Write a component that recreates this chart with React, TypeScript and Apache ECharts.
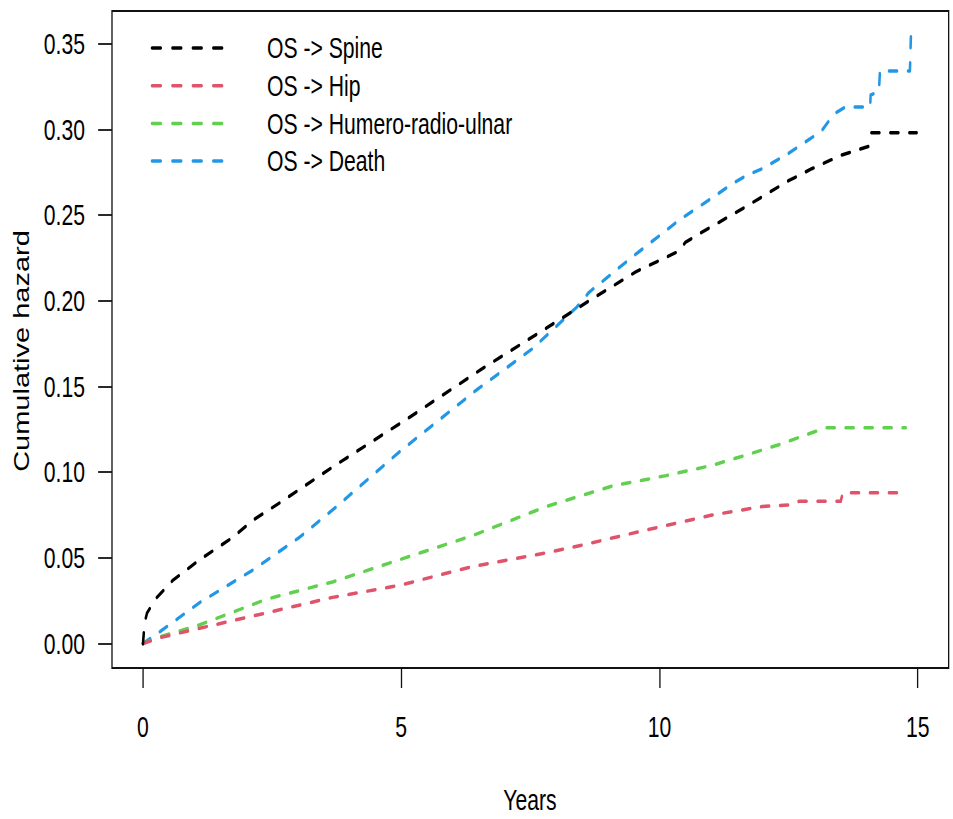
import React, { useEffect, useRef } from "react";
import * as echarts from "echarts";

const seriesNames = ["OS -> Spine", "OS -> Hip", "OS -> Humero-radio-ulnar", "OS -> Death"];
const seriesColors = ["#000000", "#DF536B", "#61D04F", "#2297E6"];

const spineData: number[][] = [
  [0, 0], [0.03, 0.012], [0.08, 0.018], [0.27, 0.027], [0.58, 0.037], [1.1, 0.049],
  [1.74, 0.062], [2.13, 0.072], [2.59, 0.081], [3.67, 0.103], [5.16, 0.132], [6.6, 0.161],
  [7.81, 0.184], [8.64, 0.2], [9.55, 0.217], [10.38, 0.229], [10.5, 0.234], [10.77, 0.239],
  [11.68, 0.255], [12.5, 0.27], [12.95, 0.277], [13.53, 0.285], [14.05, 0.29], [14.1, 0.298],
  [14.98, 0.298],
];

const hipData: number[][] = [
  [0, 0], [0.33, 0.0035], [1.1, 0.009], [2.4, 0.018], [3.67, 0.027], [4.97, 0.034],
  [6.38, 0.045], [7.81, 0.053], [8.58, 0.058], [9.28, 0.063], [9.99, 0.068], [11.02, 0.075],
  [11.99, 0.08], [12.57, 0.081], [12.7, 0.083], [13.51, 0.083], [13.55, 0.088], [14.79, 0.088],
];

const humeroData: number[][] = [
  [0, 0], [0.33, 0.004], [1.1, 0.011], [2.4, 0.026], [3.67, 0.036], [4.97, 0.049],
  [6.38, 0.063], [7.81, 0.08], [9.09, 0.092], [10.13, 0.098], [11.02, 0.104], [11.68, 0.11],
  [12.31, 0.116], [12.95, 0.123], [13.22, 0.126], [14.77, 0.126],
];

const deathData: number[][] = [
  [0, 0], [0.33, 0.007], [1.1, 0.024], [2.13, 0.043], [3.03, 0.062], [3.75, 0.08],
  [4.97, 0.112], [6.46, 0.148], [7.54, 0.172], [8.39, 0.196], [8.64, 0.205], [9.41, 0.224],
  [10.38, 0.247], [11.02, 0.26], [11.4, 0.268], [11.68, 0.273], [11.99, 0.277], [12.5, 0.286],
  [13.14, 0.299], [13.38, 0.309], [13.6, 0.313], [14.08, 0.313], [14.09, 0.32], [14.25, 0.322],
  [14.27, 0.334], [14.85, 0.334], [14.87, 0.355], [14.95, 0.355],
];

const allData = [spineData, hipData, humeroData, deathData];

const xTicks = [0, 5, 10, 15];
const yTicks = [0, 0.05, 0.1, 0.15, 0.2, 0.25, 0.3, 0.35];

const FONT = "'Liberation Sans', Arial, Helvetica, sans-serif";
// The reference is an R plot squeezed horizontally; draw wide, then compress.
const SX = 0.73;
const W = 953 / SX;
const H = 819;
const px = (x: number) => x / SX;

export default function App() {
  const ref = useRef<HTMLDivElement>(null);

  useEffect(() => {
    if (!ref.current) return;
    const chart = echarts.init(ref.current, null, { renderer: "svg" });

    const legendGraphics: any[] = [];
    seriesNames.forEach((name, i) => {
      const y = 48 + i * 37.7;
      legendGraphics.push({
        type: "line",
        shape: { x1: px(152), y1: y, x2: px(152) + 97, y2: y },
        style: { stroke: seriesColors[i], lineWidth: 3.5, lineDash: [12, 16], lineCap: "round" },
      });
      legendGraphics.push({
        type: "text",
        x: px(267),
        y: y,
        style: {
          text: name,
          fill: "#000",
          font: `29px ${FONT}`,
          align: "left",
          verticalAlign: "middle",
        },
      });
    });

    chart.setOption({
      animation: false,
      backgroundColor: "#ffffff",
      grid: {
        left: px(112),
        top: 11,
        right: W - px(949),
        bottom: 151,
        show: true,
        borderColor: "#111",
        borderWidth: 1.8,
        backgroundColor: "transparent",
      },
      xAxis: {
        type: "value",
        min: -0.6,
        max: 15.6,
        axisLine: { show: false, onZero: false },
        splitLine: { show: false },
        axisTick: {
          show: true,
          customValues: xTicks,
          length: 20,
          lineStyle: { color: "#111", width: 1.8 },
        },
        axisLabel: {
          customValues: xTicks,
          margin: 44,
          fontSize: 29,
          fontFamily: FONT,
          color: "#000",
        },
      },
      yAxis: {
        type: "value",
        min: -0.0142,
        max: 0.369,
        axisLine: { show: false, onZero: false },
        splitLine: { show: false },
        axisTick: {
          show: true,
          customValues: yTicks,
          length: 19,
          lineStyle: { color: "#111", width: 1.8 },
        },
        axisLabel: {
          customValues: yTicks,
          margin: px(27),
          fontSize: 29,
          fontFamily: FONT,
          color: "#000",
          formatter: (v: number) => v.toFixed(2),
        },
      },
      series: allData.map((d, i) => ({
        name: seriesNames[i],
        type: "line",
        data: d,
        symbol: "none",
        showSymbol: false,
        lineStyle: {
          color: seriesColors[i],
          width: 3.5,
          type: [11, 15],
          cap: "round",
          join: "round",
        },
        z: 10 - i,
      })),
      graphic: [
        ...legendGraphics,
        {
          type: "text",
          x: px(530),
          y: 800,
          style: {
            text: "Years",
            fill: "#000",
            font: `29px ${FONT}`,
            align: "center",
            verticalAlign: "middle",
          },
        },
        {
          type: "text",
          x: px(21),
          y: 351,
          rotation: Math.PI / 2,
          style: {
            text: "Cumulative hazard",
            fill: "#000",
            font: `29px ${FONT}`,
            align: "center",
            verticalAlign: "middle",
          },
        },
      ],
    });

    return () => chart.dispose();
  }, []);

  return (
    <div style={{ position: "fixed", left: 0, top: 0, width: 953, height: H, overflow: "hidden", background: "#fff" }}>
      <div
        ref={ref}
        style={{
          width: W,
          height: H,
          transform: `scaleX(${SX})`,
          transformOrigin: "0 0",
          background: "#fff",
        }}
      />
    </div>
  );
}
